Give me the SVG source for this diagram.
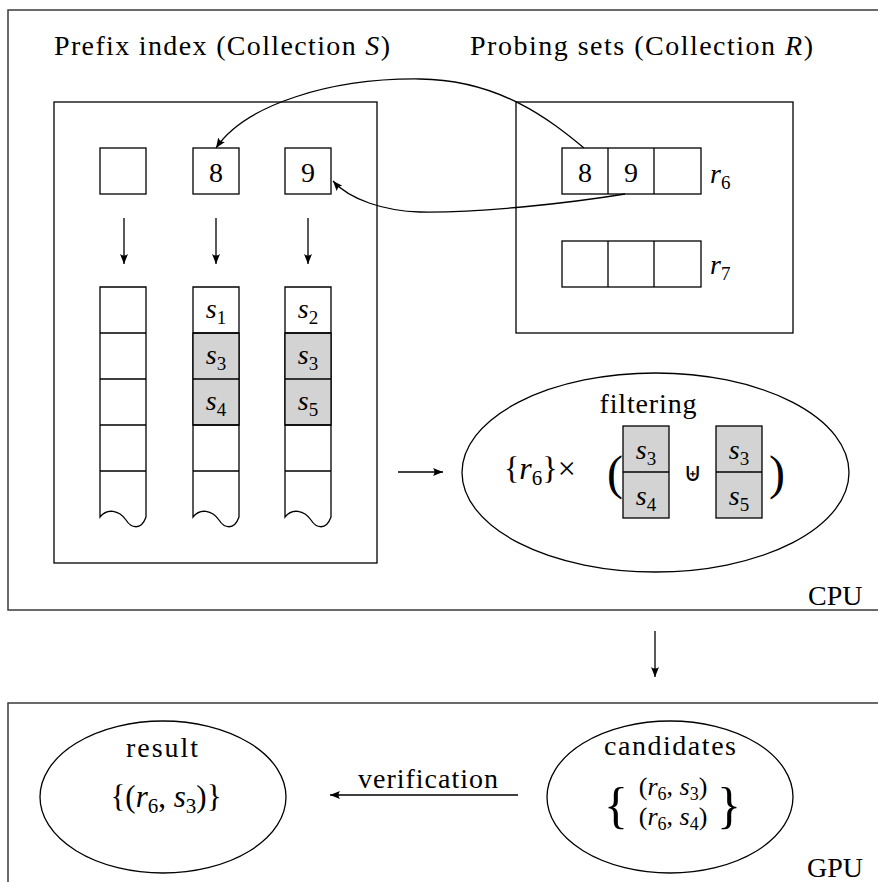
<svg xmlns="http://www.w3.org/2000/svg" width="878" height="882" viewBox="0 0 878 882">
<style>
.t{font-family:"Liberation Serif","Times New Roman","DejaVu Serif",serif;font-size:28px;fill:#000}
.sm{font-family:"Liberation Serif","Times New Roman","DejaVu Serif",serif;font-size:26px;fill:#000}
.m{font-style:italic}
.sub{font-size:19px;font-style:normal}
.sub2{font-size:18px;font-style:normal}
.box{fill:#fff;stroke:#000;stroke-width:1.3}
.gray{fill:#d3d3d3;stroke:#000;stroke-width:1.3}
.frame{fill:none;stroke:#3a3a3a;stroke-width:1.5}
.line{fill:none;stroke:#000;stroke-width:1.3}
.arr{fill:none;stroke:#000;stroke-width:1.3;marker-end:url(#ah)}
</style>
<defs>
<marker id="ah" viewBox="0 0 10 8" refX="10" refY="4" markerWidth="10" markerHeight="8" markerUnits="userSpaceOnUse" orient="auto">
<path d="M0,0 Q3,4 0,8 L10,4 z" fill="#000"/>
</marker>
</defs>
<rect width="878" height="882" fill="#fff"/>

<g id="cpu">
<rect class="frame" x="8" y="10" width="880" height="600"/>
<text class="t" x="808" y="605">CPU</text>
</g>
<g id="gpu">
<rect class="frame" x="8" y="703" width="880" height="200"/>
<text class="t" x="807" y="877">GPU</text>
</g>

<g id="prefix-index">
<text class="t" x="54" y="55" textLength="336" lengthAdjust="spacing">Prefix index (Collection <tspan class="m">S</tspan>)</text>
<rect class="line" x="54" y="102" width="323" height="461"/>
</g>

<g id="probing-sets">
<text class="t" x="470" y="55" textLength="343" lengthAdjust="spacing">Probing sets (Collection <tspan class="m">R</tspan>)</text>
<rect class="line" x="516" y="102" width="277" height="231"/>
</g>

<g id="token-a"><rect class="box" x="100" y="148" width="46" height="46"/></g>
<g id="token-8"><rect class="box" x="193" y="148" width="46" height="46"/><text class="t" x="216" y="182" text-anchor="middle">8</text></g>
<g id="token-9"><rect class="box" x="285" y="148" width="46" height="46"/><text class="t" x="308" y="182" text-anchor="middle">9</text></g>

<g id="list-a">
<path class="box" d="M100,287 V517 C107,508 119,510 126,520 C131,528 141,531 146,517 V287 Z"/>
<path class="line" d="M100,333 H146 M100,379 H146 M100,425 H146 M100,471 H146"/>
</g>
<g id="list-8">
<path class="box" d="M193,287 V517 C200,508 212,510 219,520 C224,528 234,531 239,517 V287 Z"/>
<rect class="gray" x="193" y="333" width="46" height="92"/>
<path class="line" d="M193,333 H239 M193,379 H239 M193,425 H239 M193,471 H239"/>
<text class="t" x="216" y="318" text-anchor="middle"><tspan class="m">s</tspan><tspan class="sub" dy="6">1</tspan></text>
<text class="t" x="216" y="364" text-anchor="middle"><tspan class="m">s</tspan><tspan class="sub" dy="6">3</tspan></text>
<text class="t" x="216" y="410" text-anchor="middle"><tspan class="m">s</tspan><tspan class="sub" dy="6">4</tspan></text>
</g>
<g id="list-9">
<path class="box" d="M285,287 V517 C292,508 304,510 311,520 C316,528 326,531 331,517 V287 Z"/>
<rect class="gray" x="285" y="333" width="46" height="92"/>
<path class="line" d="M285,333 H331 M285,379 H331 M285,425 H331 M285,471 H331"/>
<text class="t" x="308" y="318" text-anchor="middle"><tspan class="m">s</tspan><tspan class="sub" dy="6">2</tspan></text>
<text class="t" x="308" y="364" text-anchor="middle"><tspan class="m">s</tspan><tspan class="sub" dy="6">3</tspan></text>
<text class="t" x="308" y="410" text-anchor="middle"><tspan class="m">s</tspan><tspan class="sub" dy="6">5</tspan></text>
</g>

<g id="r6">
<rect class="box" x="562" y="148" width="139" height="46"/>
<path class="line" d="M608,148 V194 M654,148 V194"/>
<text class="t" x="585" y="182" text-anchor="middle">8</text>
<text class="t" x="631" y="182" text-anchor="middle">9</text>
<text class="t" x="710" y="183"><tspan class="m">r</tspan><tspan class="sub" dy="6">6</tspan></text>
</g>
<g id="r7">
<rect class="box" x="562" y="241" width="139" height="46"/>
<path class="line" d="M608,241 V287 M654,241 V287"/>
<text class="t" x="710" y="274"><tspan class="m">r</tspan><tspan class="sub" dy="6">7</tspan></text>
</g>

<g id="filtering">
<ellipse class="line" cx="655.5" cy="472.5" rx="193.5" ry="99.5"/>
<text class="t" x="648" y="413" text-anchor="middle" textLength="97">filtering</text>
<text class="t" x="504" y="479" style="font-size:32px">{<tspan class="m">r</tspan><tspan dy="6" style="font-size:21px;font-style:normal">6</tspan><tspan dy="-6">}×</tspan></text>
<text class="t" x="607" y="489" style="font-size:48px">(</text>
<text class="t" x="769" y="489" style="font-size:48px">)</text>
<rect class="gray" x="623" y="426" width="46" height="92"/>
<path class="line" d="M623,472 H669"/>
<text class="t" x="646" y="459" text-anchor="middle"><tspan class="m">s</tspan><tspan class="sub" dy="6">3</tspan></text>
<text class="t" x="646" y="505" text-anchor="middle"><tspan class="m">s</tspan><tspan class="sub" dy="6">4</tspan></text>
<text x="693" y="481" text-anchor="middle" style="font-family:'DejaVu Sans',sans-serif;font-size:26px">⊎</text>
<rect class="gray" x="716" y="426" width="46" height="92"/>
<path class="line" d="M716,472 H762"/>
<text class="t" x="739" y="459" text-anchor="middle"><tspan class="m">s</tspan><tspan class="sub" dy="6">3</tspan></text>
<text class="t" x="739" y="505" text-anchor="middle"><tspan class="m">s</tspan><tspan class="sub" dy="6">5</tspan></text>
</g>

<g id="candidates">
<ellipse class="line" cx="670" cy="797" rx="123" ry="76"/>
<text class="t" x="670" y="755" text-anchor="middle" textLength="132">candidates</text>
<text class="t" x="604" y="822" style="font-size:50px">{</text>
<text class="t" x="717" y="822" style="font-size:50px">}</text>
<text class="sm" x="673" y="795" text-anchor="middle">(<tspan class="m">r</tspan><tspan class="sub2" dy="5">6</tspan><tspan dy="-5">, </tspan><tspan class="m">s</tspan><tspan class="sub2" dy="5">3</tspan><tspan dy="-5">)</tspan></text>
<text class="sm" x="673" y="825" text-anchor="middle">(<tspan class="m">r</tspan><tspan class="sub2" dy="5">6</tspan><tspan dy="-5">, </tspan><tspan class="m">s</tspan><tspan class="sub2" dy="5">4</tspan><tspan dy="-5">)</tspan></text>
</g>

<g id="result">
<ellipse class="line" cx="163" cy="797" rx="123" ry="76"/>
<text class="t" x="162" y="757" text-anchor="middle" textLength="72">result</text>
<text class="t" x="166" y="807" text-anchor="middle" style="font-size:31px">{(<tspan class="m">r</tspan><tspan dy="6" style="font-size:21px;font-style:normal">6</tspan><tspan dy="-6">, </tspan><tspan class="m">s</tspan><tspan dy="6" style="font-size:21px;font-style:normal">3</tspan><tspan dy="-6">)}</tspan></text>
</g>

<g id="connectors">
<path class="arr" d="M124,218 V264"/>
<path class="arr" d="M216,218 V264"/>
<path class="arr" d="M308,218 V264"/>
<path class="arr" d="M584,148 C550,120 500,80 420,79 C330,78 245,105 216,148"/>
<path class="arr" d="M625,194 C570,203 480,213 420,212 C385,211 350,200 333,181"/>
<path class="arr" d="M398,472 H443"/>
<path class="arr" d="M655,631 V677"/>
<path class="arr" d="M518,795 H330"/>
<text class="t" x="358" y="788" textLength="140">verification</text>
</g>
</svg>
